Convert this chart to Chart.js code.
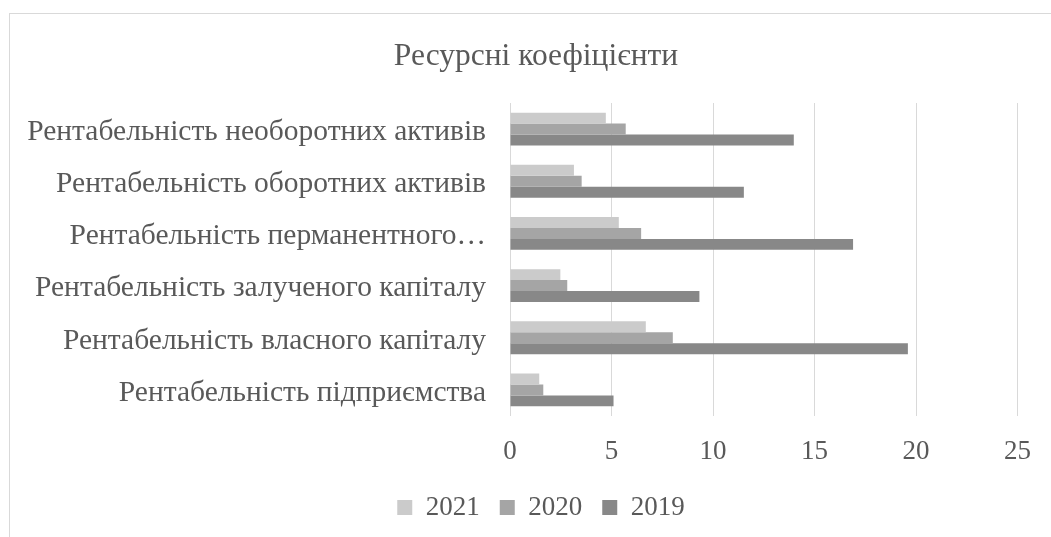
<!DOCTYPE html>
<html>
<head>
<meta charset="utf-8">
<script src="https://cdn.jsdelivr.net/npm/chart.js@4/dist/chart.umd.min.js"></script>
<style>
  html, body { margin: 0; padding: 0; background: #ffffff; overflow: hidden; }
  #frame { position: absolute; left: 9px; top: 13px; width: 1100px; height: 600px; border: 1px solid #d9d9d9; box-sizing: border-box; }
  #wrap { position: absolute; left: 0; top: 0; width: 1051px; height: 537px; }
  #probe { position: absolute; left: -9999px; top: 0; font-family: 'Liberation Serif'; font-size: 20px; }
</style>
</head>
<body>
<div id="probe">Рентабельність 2021</div>
<div id="frame"></div>
<div id="wrap"><canvas id="c" width="1051" height="537"></canvas></div>
<script>
const categories = [
  "Рентабельність необоротних активів",
  "Рентабельність оборотних активів",
  "Рентабельність перманентного…",
  "Рентабельність залученого капіталу",
  "Рентабельність власного капіталу",
  "Рентабельність підприємства"
];
const seriesNames = ["2021", "2020", "2019"];
const values2021 = [4.72, 3.15, 5.36, 2.48, 6.69, 1.44];
const values2020 = [5.70, 3.53, 6.46, 2.82, 8.02, 1.64];
const values2019 = [13.98, 11.52, 16.90, 9.33, 19.60, 5.10];
const xTicks = [0, 5, 10, 15, 20, 25];
const titleText = "Ресурсні коефіцієнти";

const FONT = "'Liberation Serif', 'Times New Roman', serif";
const TXT = "#595959";

// shifts the title and legend boxes to the right, like the reference's off-centre placement
const shiftBlocks = {
  id: 'shiftBlocks',
  afterLayout(chart) {
    if (chart.titleBlock) { chart.titleBlock.left += 54; }
    if (chart.legend) { chart.legend.left += 64; }
  }
};

function draw() {
  new Chart(document.getElementById('c'), {
    type: 'bar',
    data: {
      labels: categories,
      datasets: [
        { label: seriesNames[0], data: values2021, backgroundColor: '#cbcbcb' },
        { label: seriesNames[1], data: values2020, backgroundColor: '#a5a5a5' },
        { label: seriesNames[2], data: values2019, backgroundColor: '#888888' }
      ]
    },
    options: {
      indexAxis: 'y',
      responsive: false,
      animation: false,
      devicePixelRatio: 1,
      layout: { padding: { top: 0, right: 33, bottom: 6, left: 0 } },
      datasets: { bar: { categoryPercentage: 0.63, barPercentage: 1.0 } },
      scales: {
        x: {
          min: xTicks[0],
          max: xTicks[xTicks.length - 1],
          afterBuildTicks: (s) => { s.ticks = xTicks.map(v => ({ value: v })); },
          afterFit: (s) => { s.height = 58; },
          grid: { color: '#d9d9d9', lineWidth: 1, drawTicks: false },
          border: { display: false },
          ticks: { color: TXT, font: { family: FONT, size: 27 }, padding: 20, maxRotation: 0 }
        },
        y: {
          afterFit: (s) => { s.width = 510; },
          grid: { display: false, drawTicks: false },
          border: { display: false },
          ticks: { color: TXT, font: { family: FONT, size: 29.5 }, padding: 24, labelOffset: 3, autoSkip: false }
        }
      },
      plugins: {
        title: {
          display: true,
          text: titleText,
          color: TXT,
          font: { family: FONT, size: 31.5, weight: 'normal' },
          padding: { top: 38.2, bottom: 27 }
        },
        legend: {
          position: 'bottom',
          labels: {
            color: TXT,
            font: { family: FONT, size: 27 },
            boxWidth: 15,
            boxHeight: 15,
            padding: 20
          }
        },
        tooltip: { enabled: false }
      }
    },
    plugins: [shiftBlocks]
  });
}

if (document.fonts && document.fonts.load) {
  Promise.all([
    document.fonts.load("29px 'Liberation Serif'", "Рентабельність"),
    document.fonts.load("31px 'Liberation Serif'", "Ресурсні")
  ]).then(draw, draw);
} else {
  draw();
}
</script>
</body>
</html>
